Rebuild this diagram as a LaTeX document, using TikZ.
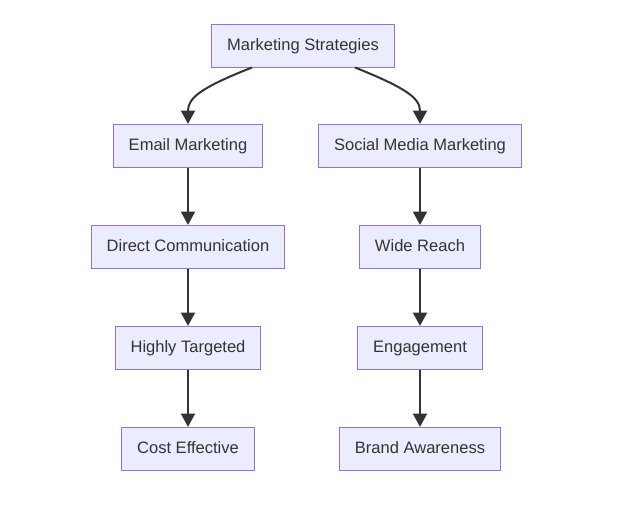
\documentclass[tikz,border=0pt]{standalone}
\usepackage{fontspec}
\setmainfont{Liberation Sans}
\usetikzlibrary{arrows.meta}
\definecolor{boxfill}{HTML}{ECECFF}
\definecolor{boxline}{HTML}{9370DB}
\definecolor{edgeline}{HTML}{333333}
\begin{document}
\begin{tikzpicture}[
  x=0.75pt, y=-0.75pt,
  box/.style={draw=boxline, fill=boxfill, line width=0.9pt, minimum height=32.25pt,
    inner xsep=11.5pt, text height=9pt, text depth=2.5pt,
    font=\fontsize{12.4}{14}\selectfont, text=edgeline},
  flow/.style={draw=edgeline, line width=1.5pt, -{Triangle[length=10pt, width=10.5pt]}}
]
\useasboundingbox (0,0) rectangle (627,510);
\node[box] (strat) at (303,46) {Marketing Strategies};
\node[box] (email) at (188,146) {Email Marketing};
\node[box] (social) at (420,146) {Social Media Marketing};
\node[box] (direct) at (188,247) {Direct Communication};
\node[box] (reach) at (420,247) {Wide Reach};
\node[box] (target) at (188,348) {Highly Targeted};
\node[box] (engage) at (420,348) {Engagement};
\node[box] (cost) at (188,449) {Cost Effective};
\node[box] (brand) at (420,449) {Brand Awareness};
\coordinate (sl) at (252,67.5);
\coordinate (sr) at (355,67.5);
\draw[flow] (sl) .. controls (200,88) and (188,98) .. (email.north);
\draw[flow] (sr) .. controls (406,88) and (420,98) .. (social.north);
% left column
\draw[flow] (email) -- (direct);
\draw[flow] (direct) -- (target);
\draw[flow] (target) -- (cost);
% right column
\draw[flow] (social) -- (reach);
\draw[flow] (reach) -- (engage);
\draw[flow] (engage) -- (brand);
\end{tikzpicture}
\end{document}
